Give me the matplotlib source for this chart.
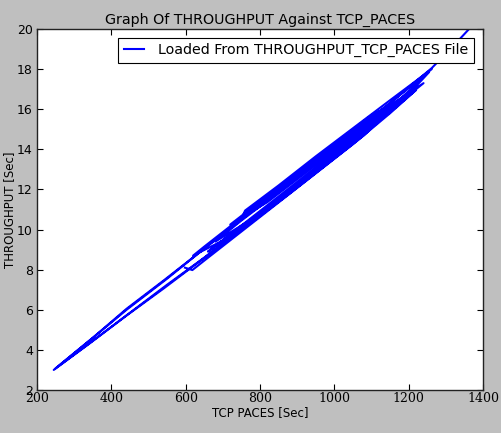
import matplotlib
matplotlib.use("Agg")
import matplotlib.pyplot as plt
from matplotlib.patches import Rectangle

# THROUGHPUT vs TCP_PACES trace (one continuous path)
tcp_paces = [598, 618, 650, 750, 850, 950, 1050, 1150, 1220,
             1150, 1050, 950, 850, 750, 650, 550, 450, 350, 245,
             350, 441, 550, 650, 750, 760, 850, 950, 1050, 1150, 1262,
             1150, 1050, 950, 850, 750, 650, 620,
             700, 800, 900, 1000, 1100, 1200, 1255,
             1150, 1050, 950, 850, 750, 660,
             750, 850, 950, 1050, 1150, 1240,
             1150, 1050, 950, 850, 750, 680,
             780, 880, 980, 1080, 1180,
             1100, 1000, 900, 800, 720,
             820, 920, 1020, 1120, 1200,
             1080, 980, 880, 780, 640, 540, 440, 340, 250,
             350, 441, 540, 640, 740, 840, 940, 1040, 1140, 1262, 1320, 1380]
throughput = [8.10, 7.98, 8.45, 9.90, 11.35, 12.80, 14.25, 15.80, 16.96,
              15.85, 14.40, 12.95, 11.50, 10.05, 8.60, 7.25, 5.85, 4.45, 3.00,
              4.60, 6.00, 7.55, 9.05, 10.55, 10.95, 12.20, 13.65, 15.05, 16.45, 18.00,
              16.30, 14.90, 13.45, 12.00, 10.60, 9.15, 8.70,
              9.45, 10.85, 12.30, 13.70, 15.15, 16.75, 17.85,
              16.05, 14.55, 13.10, 11.65, 10.20, 8.90,
              10.15, 11.55, 13.00, 14.45, 15.95, 17.30,
              16.20, 14.75, 13.30, 11.85, 10.45, 9.40,
              10.55, 11.95, 13.45, 14.90, 16.45,
              15.70, 14.27, 12.83, 11.40, 10.25,
              11.37, 12.80, 14.24, 15.67, 16.82,
              14.70, 13.25, 11.80, 10.40, 8.45, 7.05, 5.70, 4.30, 3.08,
              4.60, 6.05, 7.45, 8.90, 10.35, 11.80, 13.25, 14.70, 16.15, 18.05, 19.15, 20.35]

fig = plt.figure(figsize=(5.02, 4.42), dpi=100, facecolor="#bfbfbf")
fig.patches.append(Rectangle((0, 0), 1, 9 / 442, transform=fig.transFigure,
                             facecolor="white", edgecolor="none", zorder=-1))
ax = fig.add_axes([37 / 502, 1 - 390 / 442, 446 / 502, 361 / 442])
ax.set_facecolor("white")
ax.plot(tcp_paces, throughput, color="#0000ff", lw=1.5,
        label="Loaded From THROUGHPUT_TCP_PACES File")
ax.set_xlim(200, 1400)
ax.set_ylim(2, 20)
ax.set_xticks(range(200, 1401, 200))
ax.set_yticks(range(2, 21, 2))
ax.tick_params(direction="in", top=True, right=True, length=4, width=0.8,
               labelsize=9, colors="black")
ax.tick_params(axis="x", pad=1.5)
ax.tick_params(axis="y", pad=3)
for lab in ax.get_xticklabels():
    lab.set_family("DejaVu Serif")
for s in ax.spines.values():
    s.set_linewidth(1.0)
    s.set_color("#222222")
ax.set_title("Graph Of THROUGHPUT Against TCP_PACES", fontsize=10.3, pad=4)
ax.set_xlabel("TCP PACES [Sec]", fontsize=8.5, labelpad=1)
ax.set_ylabel("THROUGHPUT [Sec]", fontsize=8.5, labelpad=1)
leg = ax.legend(loc="upper right", fontsize=10.3, fancybox=False, framealpha=1,
                edgecolor="black", handlelength=1.4, handletextpad=1.0,
                borderaxespad=0.6)
leg.get_frame().set_linewidth(0.8)
fig.savefig("out.png", dpi=100, facecolor=fig.get_facecolor())
